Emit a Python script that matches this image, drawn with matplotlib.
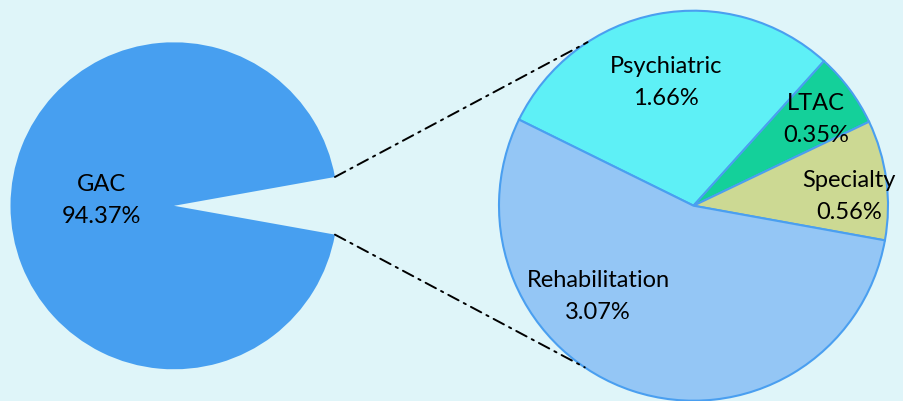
import numpy as np
import matplotlib
matplotlib.use('Agg')
import matplotlib.pyplot as plt
from matplotlib.patches import ConnectionPatch

plt.rcParams['font.family'] = ['Lato', 'DejaVu Sans']

# donnees
main_label = 'GAC'
main_value = 94.37
sub_labels = ['Psychiatric', 'LTAC', 'Specialty', 'Rehabilitation']
sub_values = [1.66, 0.35, 0.56, 3.07]

bg = '#dff5f9'
main_color = '#479ff0'
sub_colors = ['#5ef0f6', '#14d09a', '#ccd993', '#94c6f5']

W, H = 904, 401
fig = plt.figure(figsize=(W/100, H/100), dpi=100, facecolor=bg)

def px_axes(cx, cy, rx, ry):
    # axe en pixels (origine en haut a gauche)
    return fig.add_axes([(cx-rx)/W, (H-(cy+ry))/H, 2*rx/W, 2*ry/H])

fs = 17
ls = 1.65

# camembert de gauche
ax1 = px_axes(174, 205.8, 163.5, 163.5)
other = sum(sub_values)
half_gap = 360*other/(other+main_value)/2
w1, _ = ax1.pie([other, main_value], colors=['none', main_color],
                startangle=-half_gap, radius=1)
w1[0].set_visible(False)
ax1.set_xlim(-1, 1); ax1.set_ylim(-1, 1); ax1.set_aspect('auto'); ax1.axis('off')
ax1.text(-0.445, 0.03, f"{main_label}\n{main_value:.2f}%", ha='center', va='center',
         fontsize=fs, linespacing=ls)

# camembert de droite
ax2 = px_axes(693.5, 205.7, 194.5, 195)
w2, _ = ax2.pie(sub_values, colors=sub_colors, startangle=153.8, counterclock=False,
                radius=1, wedgeprops=dict(edgecolor='#4a9ff0', linewidth=1.5))
for w in w2:
    w.set_clip_on(False)
ax2.set_xlim(-1, 1); ax2.set_ylim(-1, 1); ax2.set_aspect('auto'); ax2.axis('off')

label_pos = [(-0.14, 0.63), (0.63, 0.44), (0.80, 0.045), (-0.49, -0.465)]
for lab, val, (x, y) in zip(sub_labels, sub_values, label_pos):
    ax2.text(x, y, f"{lab}\n{val:.2f}%", ha='center', va='center',
             fontsize=fs, linespacing=ls)

# lignes de liaison
t = np.radians(half_gap)
for sgn, ang in [(1, 123), (-1, -124)]:
    a = np.radians(ang)
    con = ConnectionPatch(xyA=(np.cos(t), sgn*np.sin(t)), coordsA=ax1.transData,
                          xyB=(np.cos(a), np.sin(a)), coordsB=ax2.transData,
                          color='black', linewidth=1.4, linestyle=(0, (6, 3, 1.2, 3)))
    fig.add_artist(con)

fig.savefig('out.png', dpi=100, facecolor=bg)
